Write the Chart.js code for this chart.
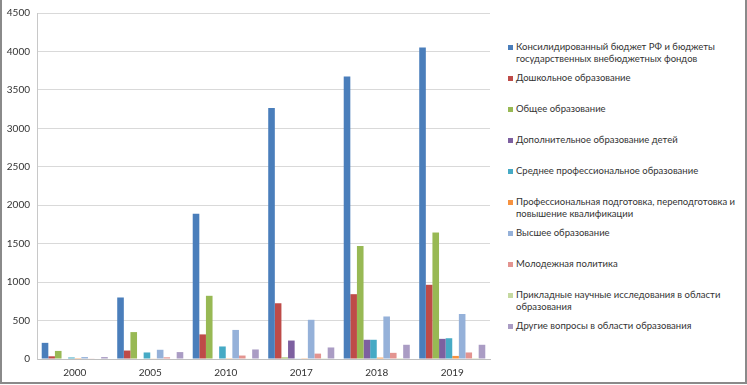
<!DOCTYPE html>
<html lang="ru">
<head>
<meta charset="utf-8">
<script src="https://cdn.jsdelivr.net/npm/chart.js@4"></script>
<style>
  html, body { margin: 0; padding: 0; background: #fff; }
  #wrap { position: relative; width: 747px; height: 385px; overflow: hidden; font-family: Lato, sans-serif; }
  #frame { position: absolute; left: 0; top: -2px; width: 747px; height: 386px; box-sizing: border-box;
           border: 2px solid #8a8a8a; pointer-events: none; }
  #plot { position: absolute; left: 0; top: 0; }
  #legend { position: absolute; left: 508px; top: 0; width: 235px; height: 385px; }
  .item { position: absolute; left: 0; font-size: 9.5px; line-height: 12px; color: #333; }
  .item .sw { position: absolute; left: 0; top: 4px; width: 5px; height: 5px; }
  .item .tx { margin-left: 8px; white-space: nowrap; }
</style>
</head>
<body>
<div id="wrap">
  <canvas id="plot" width="495" height="385"></canvas>
  <div id="legend"></div>
  <div id="frame"></div>
</div>
<script>
// Расходы на образование по годам, 10 рядов
const years = ['2000', '2005', '2010', '2017', '2018', '2019'];

const seriesNames = [
    ['Консилидированный бюджет РФ  и бюджеты', 'государственных внебюджетных фондов'],
    ['Дошкольное образование'],
    ['Общее образование'],
    ['Дополнительное образование детей'],
    ['Среднее профессиональное образование'],
    ['Профессиональная подготовка, переподготовка и', 'повышение квалификации'],
    ['Высшее образование'],
    ['Молодежная политика'],
    ['Прикладные научные исследования в области', 'образования'],
    ['Другие вопросы в области образования'],
];

const konsolid = [210, 800, 1890, 3265, 3675, 4050];
const doshkol = [35, 110, 320, 725, 843, 965];
const obshee = [105, 350, 822, 20, 1470, 1645];
const dopoln = [0, 0, 0, 240, 250, 262];
const srednee = [20, 85, 163, 8, 250, 270];
const profpodg = [2, 5, 10, 10, 18, 40];
const vysshee = [25, 120, 378, 510, 553, 585];
const molodezh = [5, 22, 45, 70, 80, 85];
const prikladn = [0, 0, 5, 3, 2, 2];
const drugie = [25, 90, 124, 150, 185, 185];

const seriesValues = [konsolid, doshkol, obshee, dopoln, srednee, profpodg, vysshee, molodezh, prikladn, drugie];
const COLORS = ['#4a7ebb', '#be4b48', '#98b954', '#7d60a0', '#46aac5', '#f69240', '#95b1d9', '#e39490', '#c5d9a0', '#aa9cc4'];

const datasets = seriesValues.map((vals, i) => ({
    label: seriesNames[i].join(' '),
    data: vals,
    backgroundColor: COLORS[i],
    borderWidth: 0,
    barPercentage: 1,
    categoryPercentage: 0.875,
}));

new Chart(document.getElementById('plot'), {
    type: 'bar',
    data: { labels: years, datasets },
    options: {
        responsive: false,
        devicePixelRatio: 1,
        animation: false,
        layout: { padding: { top: 12, right: 5, left: 0, bottom: 0 } },
        plugins: { legend: { display: false }, tooltip: { enabled: false } },
        scales: {
            x: {
                grid: { display: false },
                border: { color: '#bfbfbf' },
                ticks: { color: '#333', font: { family: 'Lato', size: 10 }, padding: 0 },
                afterFit: (s) => { s.height = 26; },
            },
            y: {
                min: 0,
                max: 4500,
                grid: { color: '#d9d9d9', drawTicks: false },
                border: { color: '#c8c8c8' },
                ticks: { stepSize: 500, color: '#333', font: { family: 'Lato', size: 10 }, padding: 7, callback: (v) => String(v) },
                afterFit: (s) => { s.width = 37; },
            },
        },
    },
});

// Легенда справа, как в исходной диаграмме
const legendEl = document.getElementById('legend');
seriesNames.forEach((lines, i) => {
    const item = document.createElement('div');
    item.className = 'item';
    item.style.top = (41 + 31 * i) + 'px';
    const sw = document.createElement('span');
    sw.className = 'sw';
    sw.style.background = COLORS[i];
    item.appendChild(sw);
    lines.forEach((ln) => {
        const tx = document.createElement('div');
        tx.className = 'tx';
        tx.textContent = ln;
        item.appendChild(tx);
    });
    legendEl.appendChild(item);
});
</script>
</body>
</html>
